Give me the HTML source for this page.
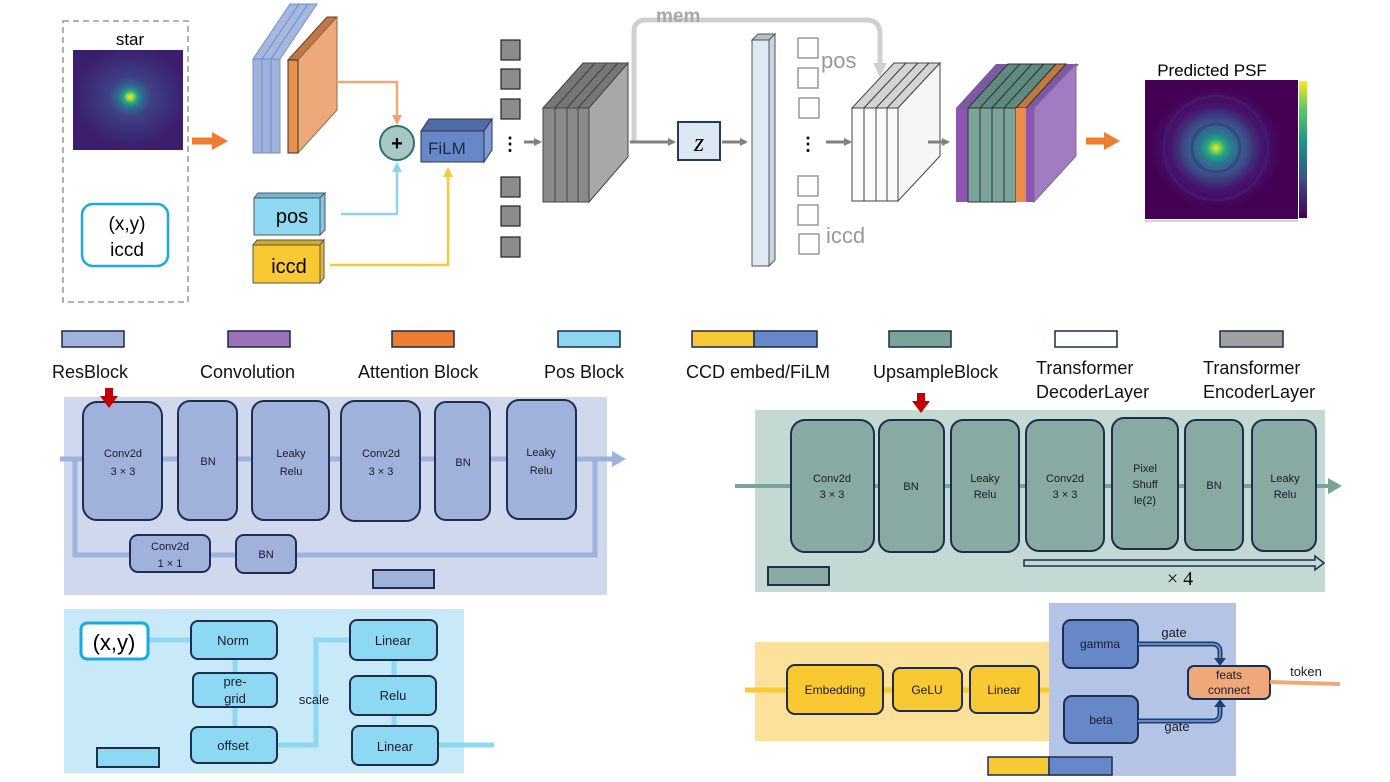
<!DOCTYPE html>
<html><head><meta charset="utf-8"><style>
body{margin:0;background:#fff}
svg{display:block;font-family:"Liberation Sans",sans-serif}
</style></head><body>
<svg width="1390" height="782" viewBox="0 0 1390 782" xmlns="http://www.w3.org/2000/svg">
<defs>
<radialGradient id="star" cx="0.52" cy="0.47" r="0.5">
<stop offset="0" stop-color="#f5e620"/><stop offset="0.06" stop-color="#9fd83f"/><stop offset="0.12" stop-color="#22a884"/><stop offset="0.22" stop-color="#2f6b8e"/><stop offset="0.4" stop-color="#3e3f86"/><stop offset="1" stop-color="#3b1f6e"/>
</radialGradient>
<radialGradient id="psf" cx="0.5" cy="0.5" r="0.5">
<stop offset="0" stop-color="#fde725"/><stop offset="0.07" stop-color="#7ad151"/><stop offset="0.14" stop-color="#22a884"/><stop offset="0.25" stop-color="#2a788e"/><stop offset="0.45" stop-color="#3b528b"/><stop offset="0.7" stop-color="#46146e"/><stop offset="1" stop-color="#440154"/>
</radialGradient>
<linearGradient id="cbar" x1="0" y1="1" x2="0" y2="0">
<stop offset="0" stop-color="#440154"/><stop offset="0.3" stop-color="#3b528b"/><stop offset="0.55" stop-color="#21918c"/><stop offset="0.8" stop-color="#5ec962"/><stop offset="1" stop-color="#fde725"/>
</linearGradient>
<marker id="ag" markerWidth="8" markerHeight="8" refX="6" refY="4" orient="auto" markerUnits="userSpaceOnUse"><path d="M0,0 L8,4 L0,8z" fill="#808080"/></marker>
<marker id="ao" markerWidth="10" markerHeight="10" refX="7" refY="5" orient="auto" markerUnits="userSpaceOnUse"><path d="M0,0 L10,5 L0,10z" fill="#f0a070"/></marker>
<marker id="ab" markerWidth="10" markerHeight="10" refX="7" refY="5" orient="auto" markerUnits="userSpaceOnUse"><path d="M0,0 L10,5 L0,10z" fill="#8fd3f0"/></marker>
<marker id="ay" markerWidth="10" markerHeight="10" refX="7" refY="5" orient="auto" markerUnits="userSpaceOnUse"><path d="M0,0 L10,5 L0,10z" fill="#f8c93a"/></marker>
<marker id="alg" markerWidth="14" markerHeight="14" refX="9" refY="7" orient="auto" markerUnits="userSpaceOnUse"><path d="M0,0 L14,7 L0,14z" fill="#d0d0d0"/></marker>
</defs>

<rect x="63" y="21" width="125" height="281" fill="none" stroke="#999" stroke-width="1.5" stroke-dasharray="6,4"/>
<text x="130" y="45" font-size="17" text-anchor="middle">star</text>
<rect x="73" y="50" width="110" height="100" fill="url(#star)"/>
<rect x="82" y="204" width="86" height="62" rx="11" fill="#fff" stroke="#1aa9e0" stroke-width="2.5"/>
<text x="127" y="230" font-size="19" text-anchor="middle">(x,y)</text>
<text x="127" y="256" font-size="19" text-anchor="middle">iccd</text>
<path d="M192,141 L214,141" stroke="#ed7d31" stroke-width="7"/><path d="M212,132 L228,141 L212,150z" fill="#ed7d31"/>

<g stroke="#7090c8" stroke-width="1">
<polygon points="253,59 290,4 299,4 262,59" fill="#a6b8e0"/>
<polygon points="262,59 299,4 308,4 271,59" fill="#a6b8e0"/>
<polygon points="271,59 308,4 317,4 280,59" fill="#a6b8e0"/>
<rect x="253" y="59" width="9" height="94" fill="#a0b2dc"/>
<rect x="262" y="59" width="9" height="94" fill="#a0b2dc"/>
<rect x="271" y="59" width="9" height="94" fill="#a0b2dc"/>
</g>
<polygon points="288,60 327,17 337,17 298,60" fill="#c07848" stroke="#6a4020"/>
<polygon points="298,60 337,17 337,110 298,153" fill="#eea97a" stroke="#9a6a4a"/>
<rect x="288" y="60" width="10" height="93" fill="#e8904c" stroke="#333"/>

<path d="M337,82 L397,82 L397,122" fill="none" stroke="#f0a878" stroke-width="2.5" marker-end="url(#ao)"/>
<path d="M341,214 L397,214 L397,165" fill="none" stroke="#8fd3f0" stroke-width="2.5" marker-end="url(#ab)"/>
<path d="M330,265 L448,265 L448,170" fill="none" stroke="#f8c93a" stroke-width="2.5" marker-end="url(#ay)"/>
<circle cx="397" cy="143" r="17" fill="#a8c8c8" stroke="#2e7070" stroke-width="2"/>
<text x="397" y="150" font-size="20" font-weight="bold" text-anchor="middle">+</text>

<polygon points="421,131 429,119 492,119 484,131" fill="#4e6ca8" stroke="#334"/>
<polygon points="484,131 492,119 492,150 484,162" fill="#7e9ad4" stroke="#334"/>
<rect x="421" y="131" width="63" height="31" fill="#6688c8" stroke="#334"/>
<text x="428" y="154" font-size="17" fill="#1a2a40">FiLM</text>

<polygon points="254,198 258,193 325,193 320,198" fill="#6cb8d8" stroke="#555"/>
<polygon points="320,198 325,193 325,230 320,235" fill="#7cc8e8" stroke="#555"/>
<rect x="254" y="198" width="66" height="37" fill="#8fd8f2" stroke="#555"/>
<text x="292" y="223" font-size="20" text-anchor="middle">pos</text>
<polygon points="253,245 257,240 324,240 320,245" fill="#d8a820" stroke="#555"/>
<polygon points="320,245 324,240 324,278 320,283" fill="#e8b830" stroke="#555"/>
<rect x="253" y="245" width="67" height="38" fill="#f8c932" stroke="#555"/>
<text x="289" y="273" font-size="20" text-anchor="middle">iccd</text>

<g fill="#8c8c8c" stroke="#222" stroke-width="1.2">
<rect x="501" y="40" width="19" height="20"/><rect x="501" y="69" width="19" height="20"/><rect x="501" y="99" width="19" height="20"/>
<rect x="501" y="177" width="19" height="20"/><rect x="501" y="206" width="19" height="20"/><rect x="501" y="237" width="19" height="20"/>
</g>
<text x="510" y="150" font-size="18" font-weight="bold" text-anchor="middle">⋮</text>
<line x1="524" y1="142" x2="540" y2="142" stroke="#808080" stroke-width="3" marker-end="url(#ag)"/>

<g stroke="#444" stroke-width="1">
<polygon points="543,108 583,63 595,63 555,108" fill="#777"/>
<polygon points="555,108 595,63 607,63 567,108" fill="#777"/>
<polygon points="567,108 607,63 618,63 578,108" fill="#777"/>
<polygon points="578,108 618,63 628,63 589,108" fill="#777"/>
<polygon points="589,108 628,63 628,157 589,202" fill="#a8a8a8"/>
<rect x="543" y="108" width="12" height="94" fill="#8a8a8a"/>
<rect x="555" y="108" width="12" height="94" fill="#8a8a8a"/>
<rect x="567" y="108" width="11" height="94" fill="#8a8a8a"/>
<rect x="578" y="108" width="11" height="94" fill="#8a8a8a"/>
</g>

<path d="M634,142 L634,32 Q634,20 646,20 L866,20 Q880,20 880,34 L880,72" fill="none" stroke="#d0d0d0" stroke-width="5" marker-end="url(#alg)"/>
<text x="656" y="22" font-size="19" font-weight="bold" fill="#a8a8a8">mem</text>
<line x1="630" y1="142" x2="674" y2="142" stroke="#808080" stroke-width="3" marker-end="url(#ag)"/>
<rect x="678" y="122" width="42" height="38" fill="#dce8f4" stroke="#223a5e" stroke-width="2"/>
<text x="699" y="151" font-size="26" font-style="italic" font-family="Liberation Serif,serif" text-anchor="middle">z</text>
<line x1="722" y1="142" x2="746" y2="142" stroke="#808080" stroke-width="3" marker-end="url(#ag)"/>

<polygon points="752,40 758,34 775,34 769,40" fill="#b8bec8" stroke="#555"/>
<polygon points="769,40 775,34 775,260 769,266" fill="#c8d4e0" stroke="#555"/>
<rect x="752" y="40" width="17" height="226" fill="#dfe9f4" stroke="#555"/>

<g fill="#fff" stroke="#999" stroke-width="1.5">
<rect x="798" y="38" width="20" height="20"/><rect x="798" y="68" width="20" height="20"/><rect x="799" y="98" width="20" height="20"/>
<rect x="798" y="176" width="20" height="20"/><rect x="798" y="205" width="20" height="20"/><rect x="799" y="234" width="20" height="20"/>
</g>
<text x="821" y="68" font-size="22" fill="#999">pos</text>
<text x="826" y="243" font-size="22" fill="#999">iccd</text>
<text x="808" y="150" font-size="18" font-weight="bold" text-anchor="middle">⋮</text>
<line x1="826" y1="142" x2="850" y2="142" stroke="#808080" stroke-width="3" marker-end="url(#ag)"/>

<g stroke="#444" stroke-width="1">
<polygon points="852,108 894,63 906,63 864,108" fill="#d4d4d4"/>
<polygon points="864,108 906,63 918,63 876,108" fill="#d4d4d4"/>
<polygon points="876,108 918,63 929,63 887,108" fill="#d4d4d4"/>
<polygon points="887,108 929,63 940,63 898,108" fill="#d4d4d4"/>
<polygon points="898,108 940,63 940,156 898,201" fill="#f6f6f6"/>
<rect x="852" y="108" width="12" height="93" fill="#fafafa"/>
<rect x="864" y="108" width="12" height="93" fill="#fafafa"/>
<rect x="876" y="108" width="11" height="93" fill="#fafafa"/>
<rect x="887" y="108" width="11" height="93" fill="#fafafa"/>
</g>
<line x1="928" y1="142" x2="948" y2="142" stroke="#808080" stroke-width="3" marker-end="url(#ag)"/>

<polygon points="956,108 996,64 1079,64 1040,108" fill="#7a5aa0"/>
<g stroke="#333" stroke-width="1">
<polygon points="968,108 1008,64 1020,64 980,108" fill="#5f8a80"/>
<polygon points="980,108 1020,64 1032,64 992,108" fill="#5f8a80"/>
<polygon points="992,108 1032,64 1044,64 1004,108" fill="#5f8a80"/>
<polygon points="1004,108 1044,64 1056,64 1016,108" fill="#5f8a80"/>
<polygon points="1016,108 1056,64 1066,64 1026,108" fill="#c07a40"/>
</g>
<polygon points="1034,108 1076,64 1076,156 1034,202" fill="#a07cc0" stroke="#8a60a8"/>
<rect x="956" y="108" width="12" height="94" fill="#8e55b0"/>
<g stroke="#333" stroke-width="1" fill="#7aa39a">
<rect x="968" y="108" width="12" height="94"/><rect x="980" y="108" width="12" height="94"/><rect x="992" y="108" width="12" height="94"/><rect x="1004" y="108" width="12" height="94"/>
</g>
<rect x="1016" y="108" width="10" height="94" fill="#ed8c48"/>
<rect x="1026" y="108" width="8" height="94" fill="#8e55b0"/>

<path d="M1086,141 L1106,141" stroke="#ed7d31" stroke-width="7"/><path d="M1104,132 L1120,141 L1104,150z" fill="#ed7d31"/>

<text x="1212" y="76" font-size="17" text-anchor="middle">Predicted PSF</text>
<rect x="1145" y="80" width="153" height="139" fill="#440154"/>
<ellipse cx="1216" cy="148" rx="66" ry="60" fill="url(#psf)"/>
<g fill="none" stroke="#3a2a7a" stroke-opacity="0.5" stroke-width="3">
<circle cx="1216" cy="148" r="24"/><circle cx="1216" cy="148" r="38"/><circle cx="1216" cy="148" r="52"/>
</g>
<rect x="1299" y="81" width="8" height="137" fill="url(#cbar)"/>
<line x1="1145" y1="221" x2="1298" y2="221" stroke="#aaa" stroke-width="1"/>

<g stroke="#1a2a4a" stroke-width="1.5">
<rect x="62" y="331" width="62" height="16" fill="#a0b2dc"/>
<rect x="228" y="331" width="62" height="16" fill="#9b72b8"/>
<rect x="392" y="331" width="62" height="16" fill="#ed7d31"/>
<rect x="558" y="331" width="62" height="16" fill="#8dd6f2"/>
<rect x="692" y="331" width="62" height="16" fill="#f8c932"/>
<rect x="754" y="331" width="63" height="16" fill="#6688c8"/>
<rect x="889" y="331" width="62" height="16" fill="#7aa39a"/>
<rect x="1055" y="331" width="62" height="16" fill="#fff"/>
<rect x="1220" y="331" width="63" height="16" fill="#a0a0a0"/>
</g>
<g font-size="18" fill="#111">
<text x="52" y="378">ResBlock</text>
<text x="200" y="378">Convolution</text>
<text x="358" y="378">Attention Block</text>
<text x="544" y="378">Pos Block</text>
<text x="686" y="378">CCD embed/FiLM</text>
<text x="873" y="378">UpsampleBlock</text>
<text x="1036" y="374">Transformer</text>
<text x="1036" y="398">DecoderLayer</text>
<text x="1203" y="374">Transformer</text>
<text x="1203" y="398">EncoderLayer</text>
</g>

<rect x="64" y="397" width="543" height="198" fill="#cfd8ec"/>
<line x1="60" y1="459" x2="612" y2="459" stroke="#a0b2dc" stroke-width="5"/>
<path d="M612,451 L626,459 L612,467z" fill="#a0b2dc"/>
<path d="M75,459 L75,555 L595,555 L595,459" fill="none" stroke="#a0b2dc" stroke-width="5"/>
<g fill="#a0b2dc" stroke="#1e2e4e" stroke-width="2">
<rect x="83" y="402" width="79" height="118" rx="14"/>
<rect x="178" y="401" width="59" height="119" rx="12"/>
<rect x="252" y="401" width="77" height="119" rx="12"/>
<rect x="341" y="401" width="79" height="120" rx="14"/>
<rect x="435" y="402" width="55" height="118" rx="11"/>
<rect x="507" y="400" width="69" height="119" rx="12"/>
<rect x="130" y="535" width="80" height="37" rx="8"/>
<rect x="236" y="535" width="60" height="38" rx="8"/>
<rect x="373" y="570" width="61" height="18" rx="0"/>
</g>
<g font-size="11" text-anchor="middle" fill="#1a1a2a">
<text x="123" y="457">Conv2d</text><text x="123" y="475">3 × 3</text>
<text x="208" y="465">BN</text>
<text x="291" y="457">Leaky</text><text x="291" y="475">Relu</text>
<text x="381" y="457">Conv2d</text><text x="381" y="475">3 × 3</text>
<text x="463" y="466">BN</text>
<text x="541" y="456">Leaky</text><text x="541" y="474">Relu</text>
<text x="170" y="550">Conv2d</text><text x="170" y="567">1 × 1</text>
<text x="266" y="558">BN</text>
</g>
<path d="M105,388 L113,388 L113,396 L118,396 L109,408 L100,396 L105,396z" fill="#c00000"/>

<rect x="64" y="609" width="400" height="164" fill="#c7e9f8"/>
<g stroke="#8fd8f2" stroke-width="5" fill="none">
<line x1="148" y1="640" x2="191" y2="640"/>
<line x1="235" y1="659" x2="235" y2="727"/>
<path d="M277,745 L316,745 L316,640 L350,640"/>
<line x1="394" y1="660" x2="394" y2="726"/>
<line x1="438" y1="745" x2="494" y2="745"/>
</g>
<rect x="81" y="623" width="67" height="36" rx="6" fill="#fff" stroke="#1aa9e0" stroke-width="3"/>
<text x="114" y="650" font-size="22" text-anchor="middle">(x,y)</text>
<g fill="#8dd8f2" stroke="#1e2e4e" stroke-width="2">
<rect x="191" y="621" width="86" height="38" rx="7"/>
<rect x="193" y="673" width="84" height="34" rx="6"/>
<rect x="191" y="727" width="86" height="36" rx="7"/>
<rect x="350" y="620" width="87" height="40" rx="7"/>
<rect x="350" y="676" width="86" height="39" rx="7"/>
<rect x="352" y="726" width="86" height="39" rx="7"/>
<rect x="97" y="748" width="62" height="19"/>
</g>
<g font-size="13" text-anchor="middle" fill="#1a1a2a">
<text x="233" y="645">Norm</text>
<text x="235" y="686">pre-</text><text x="235" y="703">grid</text>
<text x="233" y="750">offset</text>
<text x="393" y="645">Linear</text>
<text x="393" y="700">Relu</text>
<text x="395" y="751">Linear</text>
<text x="314" y="704">scale</text>
</g>

<rect x="755" y="410" width="570" height="182" fill="#c4d8d4"/>
<line x1="735" y1="486" x2="1328" y2="486" stroke="#7aa39a" stroke-width="4"/>
<path d="M1328,478 L1342,486 L1328,494z" fill="#7aa39a"/>
<g fill="#88aaa2" stroke="#1e2e4e" stroke-width="2">
<rect x="791" y="420" width="83" height="132" rx="14"/>
<rect x="879" y="420" width="65" height="132" rx="12"/>
<rect x="951" y="420" width="68" height="132" rx="12"/>
<rect x="1026" y="420" width="78" height="131" rx="13"/>
<rect x="1112" y="418" width="66" height="131" rx="12"/>
<rect x="1185" y="420" width="58" height="130" rx="11"/>
<rect x="1252" y="420" width="64" height="131" rx="12"/>
<rect x="768" y="567" width="61" height="18" rx="0"/>
</g>
<g font-size="11" text-anchor="middle" fill="#1a1a2a">
<text x="832" y="482">Conv2d</text><text x="832" y="498">3 × 3</text>
<text x="911" y="490">BN</text>
<text x="985" y="482">Leaky</text><text x="985" y="498">Relu</text>
<text x="1065" y="482">Conv2d</text><text x="1065" y="498">3 × 3</text>
<text x="1145" y="472">Pixel</text><text x="1145" y="488">Shuff</text><text x="1145" y="504">le(2)</text>
<text x="1214" y="489">BN</text>
<text x="1285" y="482">Leaky</text><text x="1285" y="498">Relu</text>
</g>
<path d="M1024,560 L1315,560 L1315,556 L1324,563 L1315,570 L1315,566 L1024,566z" fill="#c4d8d4" stroke="#1e2e4e" stroke-width="1.5"/>
<text x="1180" y="585" font-size="20" font-family="Liberation Serif,serif" text-anchor="middle">× 4</text>
<path d="M917,393 L925,393 L925,401 L930,401 L921,413 L912,401 L917,401z" fill="#c00000"/>

<rect x="755" y="642" width="296" height="99" fill="#fce19a"/>
<rect x="1049" y="603" width="187" height="173" fill="#b3c4e6"/>
<line x1="745" y1="690" x2="1050" y2="690" stroke="#f8c932" stroke-width="5"/>
<g fill="#f8c932" stroke="#1e2e4e" stroke-width="2">
<rect x="787" y="665" width="96" height="49" rx="8"/>
<rect x="893" y="668" width="69" height="43" rx="7"/>
<rect x="970" y="666" width="69" height="47" rx="7"/>
</g>
<g fill="#6688c8" stroke="#1e2e4e" stroke-width="2">
<rect x="1063" y="620" width="75" height="48" rx="8"/>
<rect x="1064" y="696" width="74" height="47" rx="8"/>
</g>
<rect x="1188" y="666" width="82" height="33" rx="6" fill="#f0a878" stroke="#1e2e4e" stroke-width="2"/>
<g fill="none" stroke="#1e3e6e" stroke-width="5">
<path d="M1138,644 L1212,644 Q1220,644 1220,652 L1220,660"/>
<path d="M1138,721 L1212,721 Q1220,721 1220,713 L1220,705"/>
</g>
<g fill="none" stroke="#6688c8" stroke-width="2">
<path d="M1138,644 L1212,644 Q1220,644 1220,652 L1220,660"/>
<path d="M1138,721 L1212,721 Q1220,721 1220,713 L1220,705"/>
</g>
<path d="M1214,658 L1226,658 L1220,666z" fill="#1e3e6e"/>
<path d="M1214,707 L1226,707 L1220,699z" fill="#1e3e6e"/>
<line x1="1270" y1="682" x2="1340" y2="684" stroke="#f0a878" stroke-width="4"/>
<g font-size="12" text-anchor="middle" fill="#1a1a2a">
<text x="835" y="694">Embedding</text>
<text x="927" y="694">GeLU</text>
<text x="1004" y="694">Linear</text>
<text x="1100" y="648">gamma</text>
<text x="1101" y="724">beta</text>
<text x="1229" y="679">feats</text>
<text x="1229" y="694">connect</text>
<text x="1174" y="637" font-size="13">gate</text>
<text x="1177" y="731" font-size="13">gate</text>
<text x="1306" y="676" font-size="13">token</text>
</g>
<rect x="988" y="757" width="61" height="18" fill="#f8c932" stroke="#1e2e4e" stroke-width="1.5"/>
<rect x="1049" y="757" width="63" height="18" fill="#6688c8" stroke="#1e2e4e" stroke-width="1.5"/>
</svg>
</body></html>
